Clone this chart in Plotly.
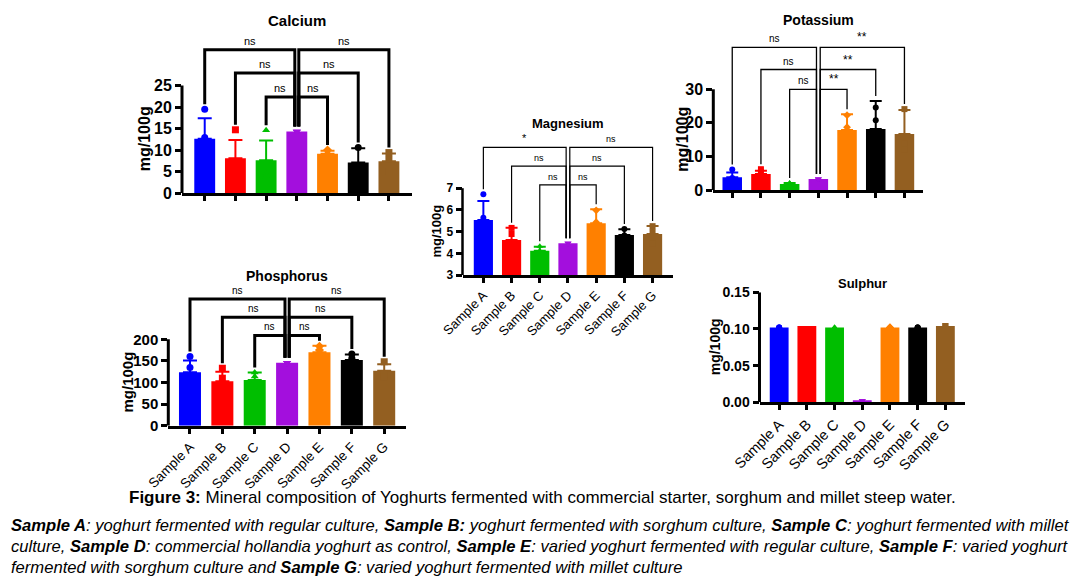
import plotly.graph_objects as go

W, H = 1089, 587
FONT = "Liberation Sans, Arial, sans-serif"

# ---------------- data ----------------
categories = ["Sample A", "Sample B", "Sample C", "Sample D", "Sample E", "Sample F", "Sample G"]
bar_colors = ["#0000FF", "#FF0000", "#00BE00", "#A30FDD", "#FF8000", "#000000", "#935F21"]
point_symbols = ["circle", "square", "triangle-up", "triangle-down", "diamond", "circle", "square"]

calcium_mean = [12.6, 8.1, 7.6, 14.3, 9.1, 7.1, 7.4]
calcium_sd = [4.8, 4.2, 4.6, 0.0, 0.7, 3.3, 1.8]
calcium_points = [[19.5, 12.9, 9.3], [14.7, 5.6, 4.0], [14.6, 4.4, 3.8], [14.3, 14.3, 14.3],
                  [10.0, 9.0, 8.3], [10.6, 5.3, 5.4], [9.4, 7.8, 5.0]]
calcium_sig = ["ns", "ns", "ns", "ns", "ns", "ns"]

potassium_mean = [3.8, 4.8, 1.8, 3.3, 17.9, 18.2, 16.7]
potassium_sd = [1.4, 0.9, 0.3, 0.0, 4.7, 8.3, 7.1]
potassium_points = [[6.1, 3.6, 1.8], [6.2, 5.3, 2.9], [2.1, 2.0, 1.6], [3.3, 3.3, 3.3],
                    [22.3, 18.7, 12.7], [24.6, 20.8, 9.2], [24.1, 13.9, 12.1]]
potassium_sig = ["ns", "ns", "ns", "**", "**", "**"]

magnesium_mean = [5.53, 4.61, 4.12, 4.46, 5.38, 4.84, 4.89]
magnesium_sd = [0.88, 0.57, 0.18, 0.0, 0.65, 0.27, 0.37]
magnesium_points = [[6.72, 5.64, 4.2], [5.17, 4.89, 3.8], [4.32, 4.12, 3.93], [4.46, 4.46, 4.46],
                    [5.98, 5.43, 4.7], [5.12, 4.82, 4.58], [5.25, 4.98, 4.45]]
magnesium_sig = ["*", "ns", "ns", "ns", "ns", "ns"]

phosphorus_mean = [124, 103, 106, 146, 170, 152, 127]
phosphorus_sd = [27, 22, 17, 0, 15, 13, 15]
phosphorus_points = [[160, 135, 100], [133, 110, 70], [123, 114, 85], [146, 146, 146],
                     [184, 175, 152], [166, 156, 135], [148, 120, 112]]
phosphorus_sig = ["ns", "ns", "ns", "ns", "ns", "ns"]

sulphur_mean = [0.102, 0.104, 0.102, 0.002, 0.102, 0.102, 0.104]
sulphur_sd = [0, 0, 0, 0, 0, 0, 0]
sulphur_points = [[0.102, 0.102, 0.102], [], [0.102, 0.102, 0.102], [0.002, 0.002, 0.002],
                  [0.102, 0.102, 0.102], [0.102, 0.102, 0.102], [0.104, 0.104]]
sulphur_sig = None

# comparisons: (left index, right index, bracket level slot)
comparisons = [(0, 3, 0), (1, 3, 1), (2, 3, 2), (3, 4, 2), (3, 5, 1), (3, 6, 0)]

# ---------------- panel styling / placement ----------------
panels = [
    dict(title="Calcium", mean=calcium_mean, sd=calcium_sd, pts=calcium_points, sig=calcium_sig,
         xl=182, sp=30.7, pad=0.74, y0px=193, ymin=0, ytop=25, ytoppx=85.5, extpx=28,
         ticks=[0, 5, 10, 15, 20, 25], fmt=None, levels=[33.3, 27.9, 22.3],
         lw=3, bw=3, tick_fs=16, xlab=False, xlab_fs=13, sig_fs=11, title_fs=15, title_y=20,
         ytitle_x=144, ytitle_fs=16, msize=7, capw=7),
    dict(title="Potassium", mean=potassium_mean, sd=potassium_sd, pts=potassium_points, sig=potassium_sig,
         xl=713.3, sp=28.7, pad=0.66, y0px=190, ymin=0, ytop=30, ytoppx=89.3, extpx=30,
         ticks=[0, 10, 20, 30], fmt=None, levels=[42.5, 35.9, 30.0],
         lw=3, bw=1.3, tick_fs=16, xlab=False, xlab_fs=13, sig_fs=10, title_fs=14, title_y=20,
         ytitle_x=683, ytitle_fs=16, msize=6, capw=6),
    dict(title="Magnesium", mean=magnesium_mean, sd=magnesium_sd, pts=magnesium_points, sig=magnesium_sig,
         xl=462.5, sp=28.2, pad=0.74, y0px=275, ymin=3, ytop=7, ytoppx=188.2, extpx=135,
         ticks=[3, 4, 5, 6, 7], fmt=None, levels=[8.88, 8.02, 7.15],
         lw=2.5, bw=1.2, tick_fs=12, xlab=True, xlab_fs=13, sig_fs=9, title_fs=13, title_y=123,
         ytitle_x=437, ytitle_fs=13, msize=6, capw=6),
    dict(title="Phosphorus", mean=phosphorus_mean, sd=phosphorus_sd, pts=phosphorus_points, sig=phosphorus_sig,
         xl=168.3, sp=32.37, pad=0.67, y0px=425.7, ymin=0, ytop=200, ytoppx=339.3, extpx=285,
         ticks=[0, 50, 100, 150, 200], fmt=None, levels=[293, 251, 209],
         lw=3, bw=3, tick_fs=15, xlab=True, xlab_fs=13.5, sig_fs=10, title_fs=14, title_y=276,
         ytitle_x=127, ytitle_fs=15, msize=7, capw=7),
    dict(title="Sulphur", mean=sulphur_mean, sd=sulphur_sd, pts=sulphur_points, sig=sulphur_sig,
         xl=759.5, sp=27.7, pad=0.71, y0px=402.3, ymin=0, ytop=0.15, ytoppx=292.3, extpx=292.3,
         ticks=[0, 0.05, 0.10, 0.15], fmt=".2f", levels=None,
         lw=3, bw=1.5, tick_fs=14, xlab=True, xlab_fs=14.5, sig_fs=10, title_fs=13, title_y=284,
         ytitle_x=715, ytitle_fs=14, msize=6, capw=6),
]


def px_x(p):
    return p / W


def px_y(p):
    return 1 - p / H


fig = go.Figure()
shapes, annotations = [], []
layout_axes = {}

for k, P in enumerate(panels):
    n = k + 1
    xname = "x" if n == 1 else f"x{n}"
    yname = "y" if n == 1 else f"y{n}"
    xkey = "xaxis" if n == 1 else f"xaxis{n}"
    ykey = "yaxis" if n == 1 else f"yaxis{n}"

    xr = [-P["pad"], 6 + P["pad"]]
    xr_px = P["xl"] + (xr[1] - xr[0]) * P["sp"]
    ppu = (P["y0px"] - P["ytoppx"]) / (P["ytop"] - P["ymin"])
    ymax_ext = P["ymin"] + (P["y0px"] - P["extpx"]) / ppu

    layout_axes[xkey] = dict(
        domain=[px_x(P["xl"]), px_x(xr_px)], range=xr, anchor=yname, automargin=False,
        showline=True, linewidth=P["lw"], linecolor="black", mirror=False,
        ticks="outside", ticklen=5, tickwidth=2.5, tickcolor="black",
        tickvals=list(range(7)), ticktext=categories, showticklabels=P["xlab"],
        tickangle=-45, tickfont=dict(family=FONT, size=P["xlab_fs"], color="black"),
        showgrid=False, zeroline=False, fixedrange=True,
    )
    layout_axes[ykey] = dict(
        domain=[px_y(P["y0px"]), px_y(P["extpx"])], range=[P["ymin"], ymax_ext], anchor=xname,
        automargin=False,
        showline=False, ticks="outside", ticklen=6, tickwidth=P["lw"], tickcolor="black",
        tickvals=P["ticks"], tickformat=P["fmt"],
        tickfont=dict(family=FONT, size=P["tick_fs"], color="black", weight="bold"),
        showgrid=False, zeroline=False, fixedrange=True,
    )

    # bars with per-sample coloured SD bars
    for i in range(7):
        fig.add_trace(go.Bar(
            x=[i], y=[P["mean"][i]], width=0.68, xaxis=xname, yaxis=yname,
            marker=dict(color=bar_colors[i], line=dict(width=0)),
            error_y=dict(type="data", array=[P["sd"][i]], arrayminus=[0], symmetric=False,
                         color=bar_colors[i], thickness=2, width=P["capw"], visible=P["sd"][i] > 0),
            showlegend=False, hoverinfo="skip",
        ))
    # replicate points
    px_list, py_list, pc, ps = [], [], [], []
    for i in range(7):
        for v in P["pts"][i]:
            px_list.append(i)
            py_list.append(v)
            pc.append(bar_colors[i])
            ps.append(point_symbols[i])
    fig.add_trace(go.Scatter(
        x=px_list, y=py_list, mode="markers", xaxis=xname, yaxis=yname,
        marker=dict(color=pc, symbol=ps, size=P["msize"], line=dict(width=0)),
        showlegend=False, hoverinfo="skip", cliponaxis=False,
    ))

    # y axis line (only up to the top tick)
    shapes.append(dict(type="line", xref=f"{xname} domain", yref=yname, x0=0, x1=0,
                       y0=P["ymin"], y1=P["ytop"], line=dict(color="black", width=P["lw"])))

    # significance brackets
    if P["sig"]:
        foot_pad = 5 / ppu
        feet = [max(P["pts"][i] + [P["mean"][i] + P["sd"][i]]) + foot_pad for i in range(7)]
        gap = 0.065
        for (a, b, slot), lab in zip(comparisons, P["sig"]):
            h = P["levels"][slot]
            xa_ = a + (gap if a == 3 else 0)
            xb_ = b - (gap if b == 3 else 0)
            path = f"M {xa_},{feet[a]} L {xa_},{h} L {xb_},{h} L {xb_},{feet[b]}"
            shapes.append(dict(type="path", xref=xname, yref=yname, path=path,
                               line=dict(color="black", width=P["bw"])))
            annotations.append(dict(xref=xname, yref=yname, x=(xa_ + xb_) / 2, y=h,
                                    text=lab, showarrow=False, yanchor="bottom", yshift=1,
                                    font=dict(family=FONT, size=P["sig_fs"] + (2 if "*" in lab else 0),
                                              color="black")))

    # panel title
    annotations.append(dict(xref=f"{xname} domain", yref="paper", x=0.5, y=px_y(P["title_y"]),
                            text=P["title"], showarrow=False, xanchor="center", yanchor="middle",
                            font=dict(family=FONT, size=P["title_fs"], color="black", weight="bold")))
    # y-axis title
    annotations.append(dict(xref="paper", yref="paper", x=px_x(P["ytitle_x"]),
                            y=px_y((P["y0px"] + P["ytoppx"]) / 2), text="mg/100g", textangle=-90,
                            showarrow=False, xanchor="center", yanchor="middle",
                            font=dict(family=FONT, size=P["ytitle_fs"], color="black", weight="bold")))

# captions
annotations.append(dict(xref="paper", yref="paper", x=px_x(542), y=px_y(497),
                        text="<b>Figure 3:</b> Mineral composition of Yoghurts fermented with commercial starter, sorghum and millet steep water.",
                        showarrow=False, xanchor="center", yanchor="middle",
                        font=dict(family=FONT, size=17, color="black")))
cap_lines = [
    "<b><i>Sample A</i></b><i>: yoghurt fermented with regular culture, </i><b><i>Sample B:</i></b><i> yoghurt fermented with sorghum culture, </i><b><i>Sample C</i></b><i>: yoghurt fermented with millet</i>",
    "<i>culture, </i><b><i>Sample D</i></b><i>: commercial hollandia yoghurt as control, </i><b><i>Sample E</i></b><i>: varied yoghurt fermented with regular culture, </i><b><i>Sample F</i></b><i>: varied yoghurt</i>",
    "<i>fermented with sorghum culture and </i><b><i>Sample G</i></b><i>: varied yoghurt fermented with millet culture</i>",
]
cap_y = [525, 546, 567]
for line, yy in zip(cap_lines, cap_y):
    annotations.append(dict(xref="paper", yref="paper", x=px_x(9), y=px_y(yy), text=line,
                            showarrow=False, xanchor="left", yanchor="middle",
                            font=dict(family=FONT, size=16.6, color="black")))

fig.update_layout(
    template="none",
    width=W, height=H, margin=dict(l=0, r=0, t=0, b=0, pad=0, autoexpand=False),
    paper_bgcolor="white", plot_bgcolor="white", barmode="overlay",
    shapes=shapes, annotations=annotations, showlegend=False,
    font=dict(family=FONT, color="black"),
    **layout_axes,
)

fig.write_html("out.html", config={"displayModeBar": False},
               post_script="document.body.style.margin='0px';document.body.style.padding='0px';")
